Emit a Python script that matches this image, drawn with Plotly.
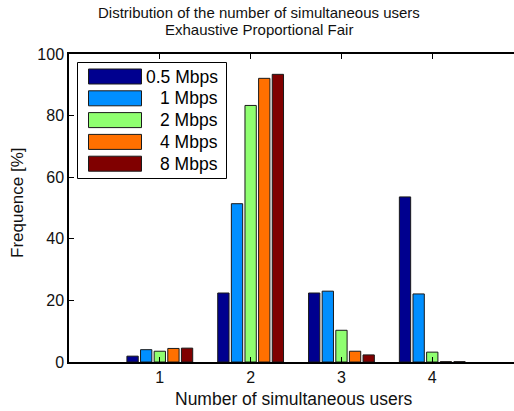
import plotly.graph_objects as go

# Number of simultaneous users (x categories)
users = [1, 2, 3, 4]

# Offered rate of each series
series_names = ["0.5 Mbps", "1 Mbps", "2 Mbps", "4 Mbps", "8 Mbps"]
series_colors = ["#00008F", "#008FFF", "#8FFF70", "#FF7000", "#800000"]

# Frequence [%] per number of simultaneous users
freq_05 = [1.9, 22.4, 22.4, 53.6]
freq_1 = [4.0, 51.4, 23.0, 22.1]
freq_2 = [3.5, 83.3, 10.3, 3.2]
freq_4 = [4.4, 92.1, 3.5, 0.1]
freq_8 = [4.5, 93.4, 2.3, 0.1]

y_ticks = [0, 20, 40, 60, 80, 100]

W, H = 514, 411
L, R, T, B = 69, 0, 54, 49
PW, PH = W - L - R, H - T - B

FONT = "Liberation Sans, Arial, Helvetica, sans-serif"


def px(x):
    return (x - L) / PW


def py(y):
    return (H - B - y) / PH


fig = go.Figure()
for name, color, vals in zip(series_names, series_colors,
                             [freq_05, freq_1, freq_2, freq_4, freq_8]):
    fig.add_trace(go.Bar(
        x=users, y=vals, name=name,
        marker=dict(color=color, line=dict(color="#1a1a1a", width=1)),
        showlegend=False,
    ))

# Boxed legend drawn inside the axes
shapes = [dict(type="rect", xref="paper", yref="paper",
               x0=px(77.5), x1=px(226.5), y0=py(178.5), y1=py(62.5),
               line=dict(color="black", width=1), fillcolor="white", layer="above")]
annotations = []
row_y = [76.5, 98.3, 120.1, 141.9, 163.7]
for name, color, yc in zip(series_names, series_colors, row_y):
    shapes.append(dict(type="rect", xref="paper", yref="paper",
                       x0=px(88.5), x1=px(141.5), y0=py(yc + 7.5), y1=py(yc - 7.5),
                       line=dict(color="#1a1a1a", width=1), fillcolor=color, layer="above"))
    annotations.append(dict(xref="paper", yref="paper", x=px(220), y=py(yc),
                            xanchor="right", yanchor="middle", showarrow=False,
                            text=name, font=dict(size=17.5, color="black", family=FONT)))

# Title lines
annotations.append(dict(xref="paper", yref="paper", x=px(258.5), y=py(12.5),
                        xanchor="center", yanchor="middle", showarrow=False,
                        text="Distribution of the number of simultaneous users",
                        font=dict(size=15, color="#111", family=FONT)))
annotations.append(dict(xref="paper", yref="paper", x=px(258.5), y=py(29.5),
                        xanchor="center", yanchor="middle", showarrow=False,
                        text="Exhaustive Proportional Fair",
                        font=dict(size=15, color="#111", family=FONT)))
# Axis labels
annotations.append(dict(xref="paper", yref="paper", x=px(294), y=py(399),
                        xanchor="center", yanchor="middle", showarrow=False,
                        text="Number of simultaneous users",
                        font=dict(size=17.5, color="#111", family=FONT)))
annotations.append(dict(xref="paper", yref="paper", x=px(17.5), y=py(202.5),
                        xanchor="center", yanchor="middle", showarrow=False,
                        textangle=-90, text="Frequence [%]",
                        font=dict(size=17, color="#111", family=FONT)))

fig.update_layout(
    width=W, height=H,
    margin=dict(l=L, r=R, t=T, b=B),
    paper_bgcolor="white", plot_bgcolor="white",
    barmode="group", bargap=0.25, bargroupgap=0.17,
    font=dict(family=FONT, color="#111"),
    shapes=shapes, annotations=annotations,
    showlegend=False,
)
fig.update_xaxes(
    range=[0, 4.9], tickvals=users, ticktext=[str(u) for u in users],
    showline=True, linecolor="black", linewidth=1.5, mirror="ticks",
    ticks="inside", ticklen=5, tickcolor="black", tickwidth=1,
    showgrid=False, zeroline=False, tickfont=dict(size=16),
)
fig.update_yaxes(
    range=[0, 100], tickvals=y_ticks, ticktext=[str(v) for v in y_ticks],
    showline=True, linecolor="black", linewidth=1.5, mirror=False,
    ticks="inside", ticklen=5, tickcolor="black", tickwidth=1,
    showgrid=False, zeroline=False, tickfont=dict(size=16),
)

fig.write_html("out.html")
